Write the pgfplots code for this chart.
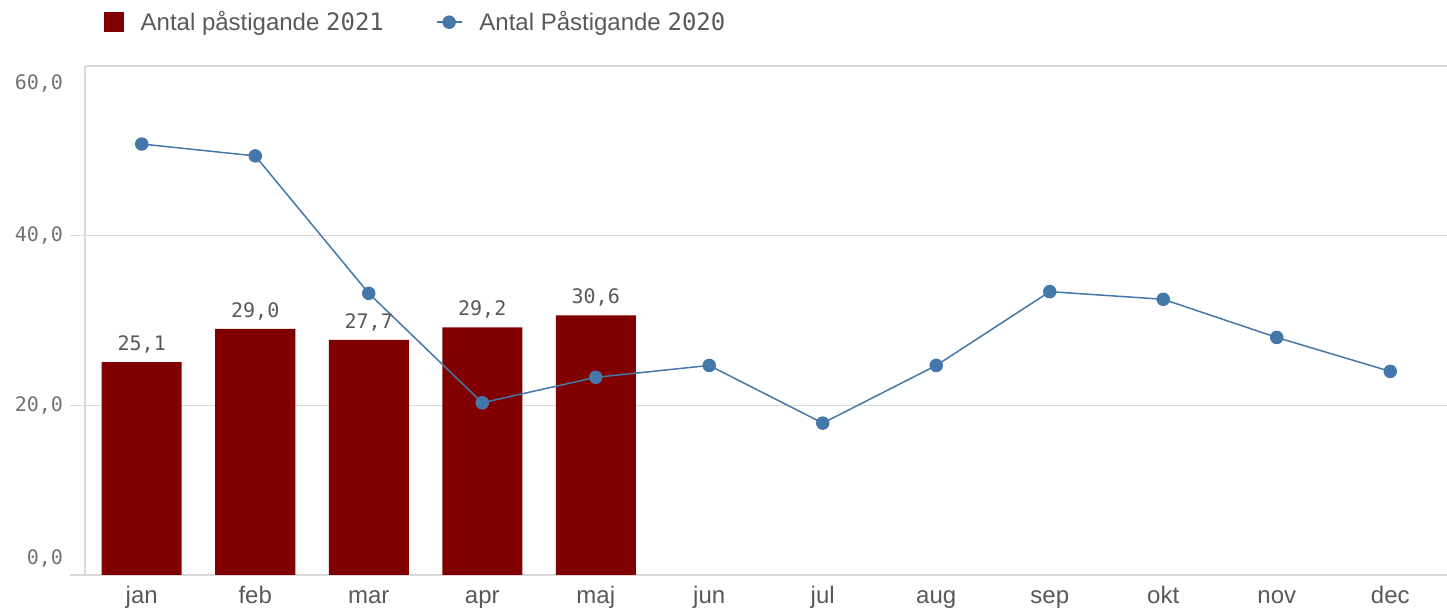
\documentclass[border=0pt]{standalone}
\usepackage{pgfplots}
\pgfplotsset{compat=1.18}
\usepackage{fontspec}
\setmainfont{Liberation Sans}
\newfontfamily\numfont{DejaVu Sans Mono}
\usetikzlibrary{calc}
\definecolor{barred}{HTML}{800000}
\definecolor{lineblue}{HTML}{4477AA}
\definecolor{txtgray}{HTML}{595959}
\definecolor{gridgray}{HTML}{D9D9D9}
\begin{document}
\begin{tikzpicture}
\begin{axis}[
  scale only axis, width=681pt, height=254.5pt,
  xmin=-0.5, xmax=11.5, ymin=0, ymax=60,
  axis x line*=bottom, axis y line*=left,
  axis line style={gridgray, line width=0.75pt},
  xtick={0,...,11},
  xticklabels={jan,feb,mar,apr,maj,jun,jul,aug,sep,okt,nov,dec},
  ytick={0,20,40},
  yticklabels={{\raisebox{5.4pt}[0pt][0pt]{0,0}},{20,0},{40,0}},
  extra y ticks={60},
  extra y tick labels={{\raisebox{-11.6pt}[0pt][0pt]{60,0}\rule{7.5pt}{0pt}}},
  extra y tick style={major tick length=0pt, grid=major},
  ymajorgrids, grid style={gridgray, line width=0.75pt},
  tick align=outside, major tick length=7.5pt,
  x tick style={draw=none}, y tick style={gridgray, line width=0.75pt},
  /pgf/number format/.cd, fixed, fixed zerofill, precision=1, use comma, assume math mode=true,
  /pgfplots/.cd,
  xticklabel style={font=\fontsize{12}{14}\selectfont, text=txtgray,
    text height=9pt, text depth=3pt, inner sep=0pt, anchor=north, yshift=2.5pt},
  yticklabel style={font=\numfont\fontsize{10}{12}\selectfont, text=txtgray!85},
  legend style={draw=none, fill=none, at={(rel axis cs:0.009,1.086)}, anchor=west,
    font=\fontsize{12}{14}\selectfont, text=txtgray,
    /tikz/every odd column/.append style={column sep=6.5pt},
    /tikz/every even column/.append style={column sep=24pt}},
  legend columns=2,
]
\addplot[ybar, bar width=40pt, fill=barred, draw=none,
  nodes near coords,
  nodes near coords style={font=\numfont\fontsize{10}{12}\selectfont, text=txtgray, yshift=1pt},
  legend image code/.code={\fill[barred] (0pt,-5pt) rectangle (10pt,5pt);}]
  coordinates {(0,25.1) (1,29.0) (2,27.7) (3,29.2) (4,30.6)};
\addlegendentry{Antal påstigande {\numfont 2021}}
\addplot[lineblue, line width=0.75pt, mark=*, mark size=3pt,
  mark options={fill=lineblue, draw=lineblue},
  legend image code/.code={\draw[lineblue, line width=0.75pt] (0pt,0pt) -- (12.5pt,0pt); \fill[lineblue] (6.25pt,0pt) circle (3pt);}]
  coordinates {(0,50.8) (1,49.4) (2,33.2) (3,20.3) (4,23.3) (5,24.7) (6,17.9) (7,24.7) (8,33.4) (9,32.5) (10,28.0) (11,24.0)};
\addlegendentry{Antal Påstigande {\numfont 2020}}
\end{axis}
\pgfresetboundingbox
\path[use as bounding box] ($(current axis.south west)+(-42.5pt,-16.5pt)$) rectangle ($(current axis.north east)+(0pt,33pt)$);
\end{tikzpicture}
\end{document}
